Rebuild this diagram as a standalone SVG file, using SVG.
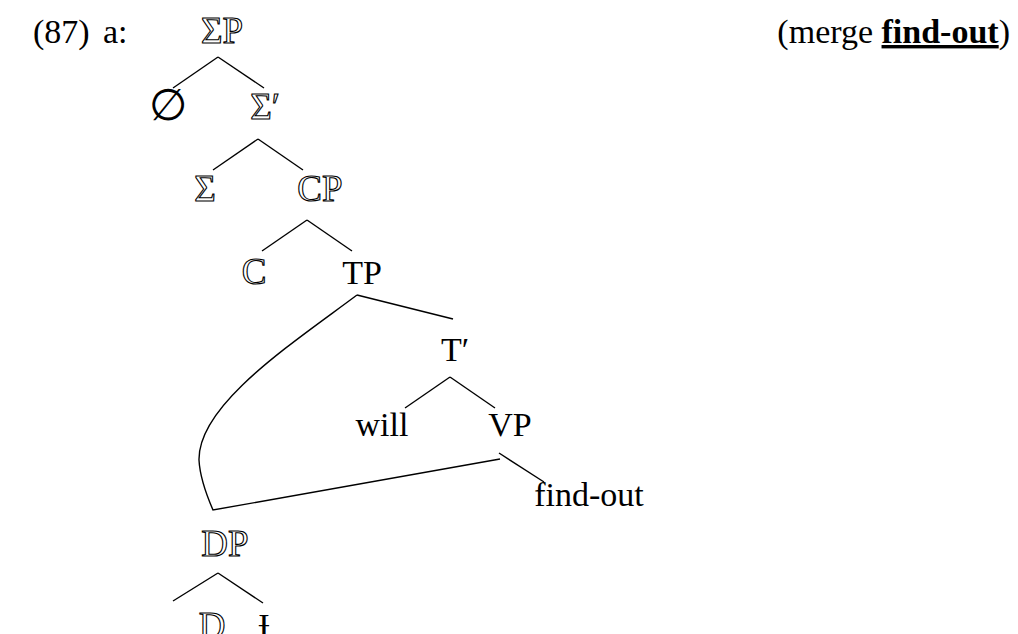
<svg xmlns="http://www.w3.org/2000/svg" width="1018" height="634" viewBox="0 0 1018 634">
<style>
text{font-family:"Liberation Serif","DejaVu Serif",serif;font-size:34px;fill:#000}
.o{fill:#fff;stroke:#000;stroke-width:1.1;font-size:37px}
.c line,.c path{stroke:#000;stroke-width:1.4;fill:none}
</style>
<rect width="1018" height="634" fill="#fff"/>
<g id="label">
<text x="33" y="43">(87)</text>
<text x="103" y="43">a:</text>
<text x="1010" y="43" text-anchor="end">(merge <tspan font-weight="bold" text-decoration="underline">find-out</tspan>)</text>
</g>
<g id="SigmaP"><text class="o" x="222" y="43" text-anchor="middle">ΣP</text></g>
<g id="null"><text transform="translate(168,120) scale(1.3)" x="0" y="0" text-anchor="middle">∅</text></g>
<g id="SigmaBar"><text class="o" x="265" y="119" text-anchor="middle">Σ′</text></g>
<g id="Sigma"><text class="o" x="205" y="201" text-anchor="middle">Σ</text></g>
<g id="CP"><text class="o" x="320" y="201" text-anchor="middle">CP</text></g>
<g id="C"><text class="o" x="254" y="284" text-anchor="middle">C</text></g>
<g id="TP"><text x="362" y="284" text-anchor="middle">TP</text></g>
<g id="Tbar"><text x="455" y="361" text-anchor="middle">T′</text></g>
<g id="will"><text x="382" y="436" text-anchor="middle">will</text></g>
<g id="VP"><text x="510" y="436" text-anchor="middle">VP</text></g>
<g id="findout"><text x="589" y="506" text-anchor="middle">find-out</text></g>
<g id="DP"><text class="o" x="225" y="556" text-anchor="middle">DP</text></g>
<g id="D"><text class="o" x="212" y="638" text-anchor="middle">D</text></g>
<g id="trace"><text x="264" y="637" text-anchor="middle">Ɨ</text></g>
<g id="connectors" class="c">
<line x1="218" y1="57" x2="173" y2="88"/>
<line x1="218" y1="57" x2="264" y2="88"/>
<line x1="258" y1="139" x2="213" y2="170"/>
<line x1="258" y1="139" x2="303" y2="170"/>
<line x1="307" y1="220" x2="262" y2="251"/>
<line x1="307" y1="220" x2="352" y2="251"/>
<line x1="357" y1="295" x2="453" y2="319"/>
<path d="M357,295 C290,345 198,405 199,460 Q200,480 213,510 L500,459"/>
<line x1="450" y1="377" x2="405" y2="408"/>
<line x1="450" y1="377" x2="495" y2="408"/>
<line x1="499" y1="453" x2="544" y2="482"/>
<line x1="218" y1="573" x2="173" y2="601"/>
<line x1="218" y1="573" x2="263" y2="603"/>
</g>
</svg>
